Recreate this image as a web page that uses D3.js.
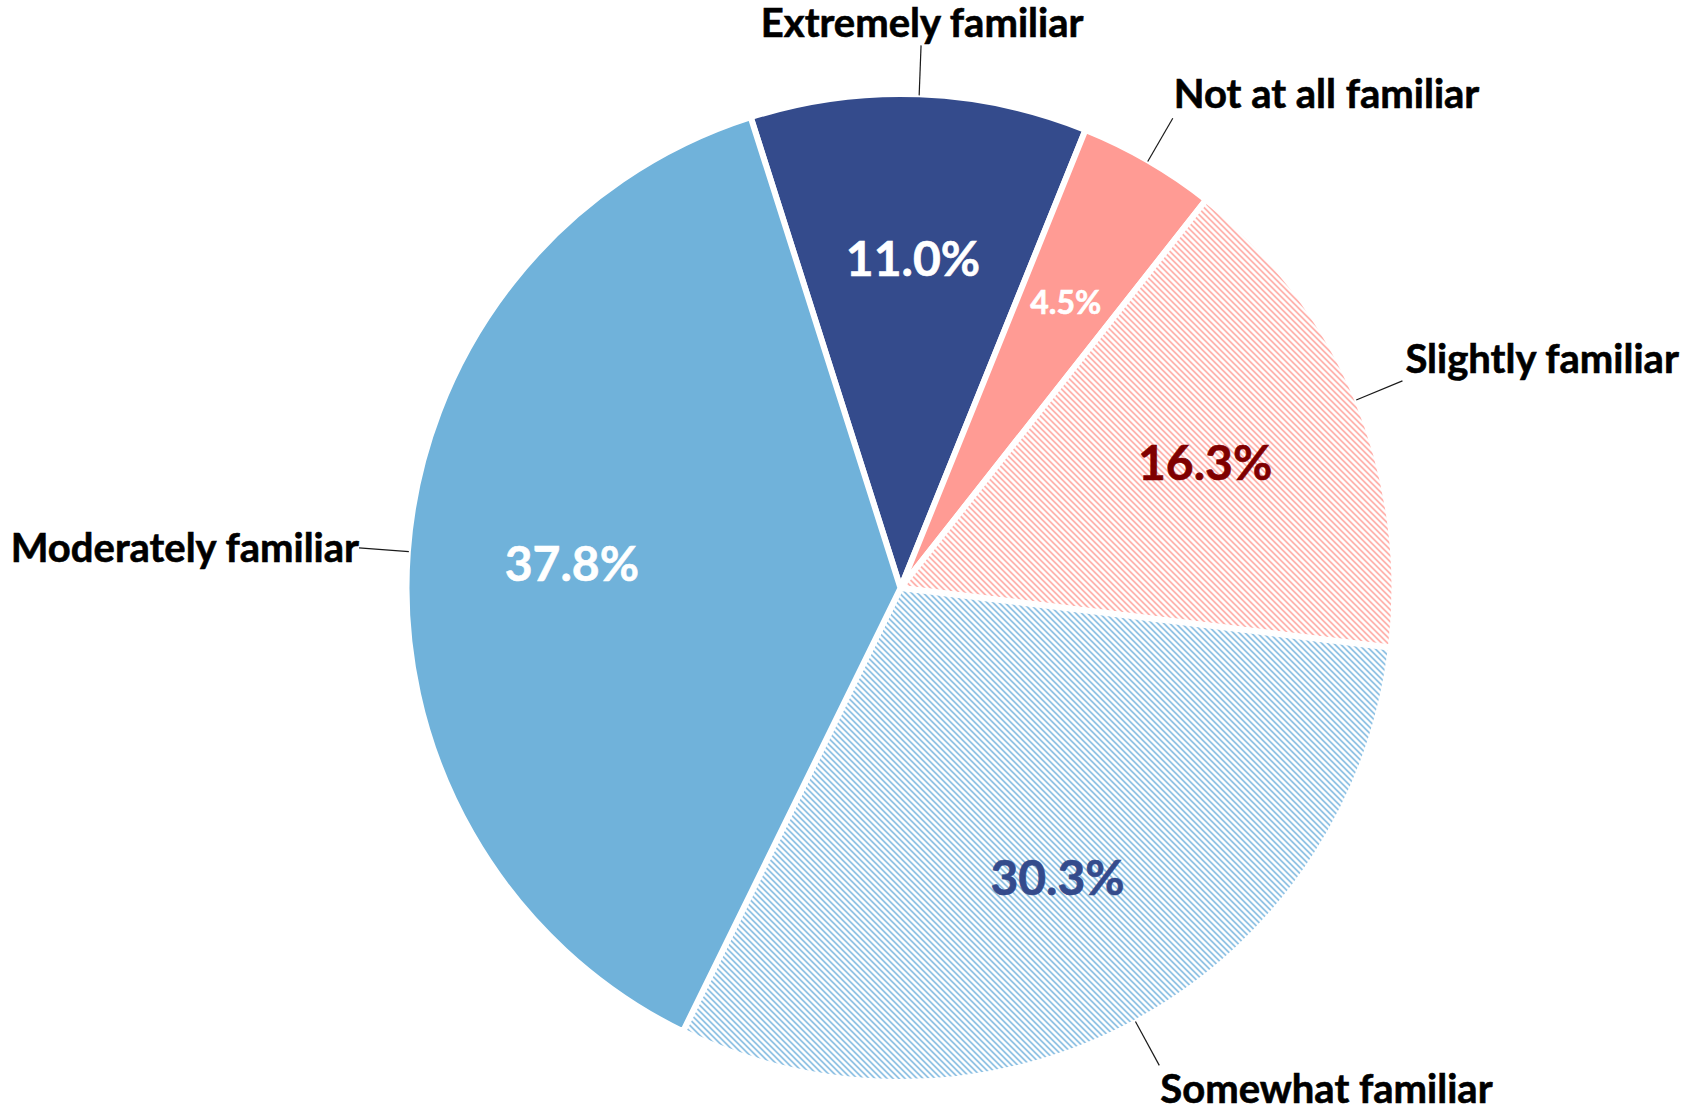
<!DOCTYPE html>
<html>
<head>
<meta charset="utf-8">
<script src="https://cdn.jsdelivr.net/npm/d3@7"></script>
<style>
  html, body { margin: 0; padding: 0; background: #ffffff; }
  svg { display: block; }
  text { font-family: Lato, "Open Sans", sans-serif; font-weight: 700; }
</style>
</head>
<body>
<svg id="chart" width="1685" height="1109"></svg>
<script>
// Familiarity survey responses (percent of respondents), clockwise from the top
const categories = ["Extremely familiar", "Not at all familiar", "Slightly familiar", "Somewhat familiar", "Moderately familiar"];
const shares = [11.0, 4.5, 16.3, 30.3, 37.8];
const valueLabels = ["11.0%", "4.5%", "16.3%", "30.3%", "37.8%"];

// Appearance of each slice
const fills = ["#344b8c", "#ff9b94", "url(#hatch-pink)", "url(#hatch-blue)", "#70b2da"];
const valueColors = ["#ffffff", "#ffffff", "#7f0000", "#344b8c", "#ffffff"];
const valueSizes = [48, 32, 48, 48, 48];

// Where each outside label sits relative to the end of its leader line
const labelPlacement = [
  { anchor: "middle", dx: 1, dy: -8 },
  { anchor: "start", dx: 1, dy: -10 },
  { anchor: "start", dx: 3, dy: -8 },
  { anchor: "start", dx: 1, dy: 38 },
  { anchor: "end", dx: 0, dy: 14 }
];

const svg = d3.select("#chart");
const cx = 900.5, cy = 588;
const R = 494;

// Diagonal hatching used by the two patterned slices
const defs = svg.append("defs");
[["hatch-pink", "#ff9b94"], ["hatch-blue", "#6fb0dc"]].forEach(([id, color]) => {
  const p = defs.append("pattern")
    .attr("id", id)
    .attr("patternUnits", "userSpaceOnUse")
    .attr("width", 6).attr("height", 6);
  p.append("rect").attr("width", 6).attr("height", 6).attr("fill", "#ffffff");
  p.append("path")
    .attr("d", "M0,0 L6,6 M-1,5 L1,7 M5,-1 L7,1")
    .attr("stroke", color)
    .attr("stroke-width", 1.4)
    .attr("fill", "none");
});

const data = categories.map((c, i) => ({ name: c, value: shares[i], label: valueLabels[i], i }));

const pie = d3.pie()
  .sort(null)
  .value(d => d.value)
  .startAngle(-17.65 * Math.PI / 180)
  .endAngle(-17.65 * Math.PI / 180 + 2 * Math.PI);

const arcs = pie(data);
const arc = d3.arc().innerRadius(0).outerRadius(R);

const g = svg.append("g").attr("transform", `translate(${cx},${cy})`);

g.selectAll("path.slice")
  .data(arcs)
  .join("path")
  .attr("class", "slice")
  .attr("d", arc)
  .attr("fill", d => fills[d.data.i])
  .attr("stroke", "#ffffff")
  .attr("stroke-width", 6)
  .attr("stroke-linejoin", "miter");

// Percentage labels inside the slices
const inner = d3.arc().innerRadius(R * 0.667).outerRadius(R * 0.667);
g.selectAll("text.value")
  .data(arcs)
  .join("text")
  .attr("class", "value")
  .attr("transform", d => `translate(${inner.centroid(d)})`)
  .attr("text-anchor", "middle")
  .attr("dy", "0.36em")
  .attr("fill", d => valueColors[d.data.i])
  .attr("stroke", d => valueColors[d.data.i])
  .attr("stroke-width", 0.6)
  .attr("font-size", d => valueSizes[d.data.i])
  .text(d => d.data.label);

// Leader lines and category labels
const mid = d => (d.startAngle + d.endAngle) / 2;
const pointAt = (d, r) => [r * Math.sin(mid(d)), -r * Math.cos(mid(d))];

g.selectAll("line.leader")
  .data(arcs)
  .join("line")
  .attr("class", "leader")
  .attr("x1", d => pointAt(d, R - 1)[0])
  .attr("y1", d => pointAt(d, R - 1)[1])
  .attr("x2", d => pointAt(d, R + 49)[0])
  .attr("y2", d => pointAt(d, R + 49)[1])
  .attr("stroke", "#1a1a1a")
  .attr("stroke-width", 1.2);

g.selectAll("text.category")
  .data(arcs)
  .join("text")
  .attr("class", "category")
  .attr("x", d => pointAt(d, R + 49)[0] + labelPlacement[d.data.i].dx)
  .attr("y", d => pointAt(d, R + 49)[1] + labelPlacement[d.data.i].dy)
  .attr("text-anchor", d => labelPlacement[d.data.i].anchor)
  .attr("fill", "#000000")
  .attr("stroke", "#000000")
  .attr("stroke-width", 0.6)
  .attr("font-size", 40)
  .text(d => d.data.name);
</script>
</body>
</html>
